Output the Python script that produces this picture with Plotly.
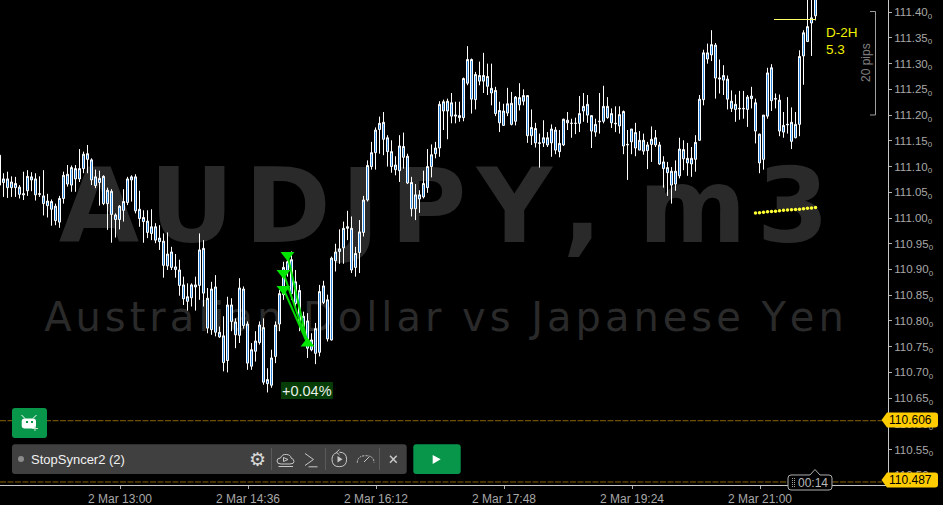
import re
import numpy as np
import pandas as pd
import plotly.graph_objects as go

# prices are kept as thousandths above 110.000
high_pts = [1125,
    1087,1090,1081,1080,1064,1090,1093,1089,1087,1081,
    1093,1047,1036,1028,1043,1090,1103,1102,1103,1134,
    1129,1142,1116,1094,1092,1083,1059,1056,1009,1025,
    1056,1080,1083,1085,1053,1015,1015,1017,990,986,
    970,972,944,930,919,886,873,873,886,970,
    957,864,876,889,789,809,847,844,805,883,
    867,799,757,780,799,805,708,744,799,860,
    915,931,935,899,870,818,815,776,796,870,
    878,851,925,950,978,993,1014,1003,944,996,
    1043,1112,1148,1176,1197,1206,1161,1151,1120,1161,
    1166,1125,1080,1066,1054,1092,1134,1143,1148,1227,
    1230,1232,1243,1226,1226,1273,1334,1310,1284,1304,
    1321,1300,1300,1255,1226,1222,1253,1245,1237,1262,
    1250,1238,1211,1185,1164,1190,1167,1182,1177,1171,
    1193,1206,1193,1195,1237,1243,1239,1200,1193,1243,
    1257,1235,1213,1217,1217,1209,1171,1173,1185,1169,
    1164,1148,1178,1171,1148,1120,1109,1099,1112,1156,
    1151,1146,1138,1161,1239,1327,1339,1365,1340,1308,
    1297,1277,1248,1240,1247,1247,1239,1255,1232,1164,
    1200,1292,1299,1242,1240,1206,1235,1215,1206,1326,
    1365,1430,1430,1450]
body_top_pts = [1122,
    1076,1076,1070,1067,1060,1047,1081,1080,1076,1047,
    1043,1033,1032,1023,1038,1083,1085,1098,1096,1096,
    1124,1125,1113,1080,1077,1081,1054,1052,1006,1023,
    1032,1076,1080,1080,1017,1001,994,983,983,961,
    955,930,934,905,899,870,847,870,870,938,
    941,844,862,866,778,771,831,831,798,864,
    862,794,744,761,792,787,686,728,792,853,
    904,915,919,876,859,809,800,763,785,857,
    868,841,922,934,940,980,983,980,931,973,
    1035,1102,1127,1171,1184,1186,1156,1129,1103,1140,
    1139,1120,1069,1045,1045,1067,1100,1123,1136,1221,
    1226,1227,1224,1200,1199,1271,1308,1308,1279,1277,
    1277,1275,1252,1248,1209,1208,1222,1223,1235,1234,
    1238,1238,1176,1174,1146,1156,1156,1173,1171,1145,
    1192,1190,1184,1184,1203,1217,1221,1199,1182,1188,
    1217,1217,1203,1184,1201,1207,1143,1173,1166,1151,
    1151,1142,1153,1156,1142,1109,1098,1091,1091,1134,
    1133,1116,1116,1147,1231,1321,1321,1337,1336,1272,
    1277,1270,1227,1221,1213,1213,1235,1237,1224,1163,
    1200,1282,1292,1232,1229,1180,1182,1186,1182,1314,
    1360,1372,1389,1440]
body_bot_pts = [1064,
    1069,1059,1059,1059,1046,1045,1053,1074,1045,1046,
    1028,1024,1017,995,992,1038,1066,1064,1076,1076,
    1096,1114,1074,1063,1069,1028,1028,1007,997,997,
    1015,1030,1074,1014,999,993,972,970,957,954,
    908,907,904,900,869,843,838,845,866,869,
    854,786,783,778,769,719,723,799,773,772,
    791,718,712,741,758,681,678,675,731,794,
    851,896,853,834,796,789,747,744,737,739,
    836,765,763,917,935,942,980,899,904,933,
    972,1035,1100,1127,1172,1153,1129,1100,1094,1092,
    1118,1068,1018,1018,1037,1041,1059,1100,1125,1136,
    1208,1208,1198,1198,1195,1195,1262,1231,1230,1266,
    1266,1256,1243,1203,1185,1180,1204,1182,1188,1220,
    1227,1160,1160,1146,1145,1146,1142,1146,1132,1129,
    1142,1185,1184,1184,1184,1208,1200,1169,1167,1187,
    1188,1195,1185,1183,1179,1140,1142,1148,1136,1132,
    1130,1131,1143,1142,1105,1096,1088,1064,1066,1082,
    1115,1107,1105,1114,1151,1230,1309,1317,1272,1270,
    1268,1231,1213,1211,1212,1212,1211,1232,1169,1107,
    1114,1198,1228,1231,1169,1167,1181,1149,1156,1182,
    1315,1343,1379,1393]
low_pts = [1061,
    1041,1039,1041,1041,1038,1035,1043,1052,1034,1041,
    1005,1001,985,986,981,1028,1061,1051,1051,1070,
    1087,1087,1064,1058,1024,1025,977,952,962,978,
    993,1025,1032,1009,983,952,961,957,951,938,
    884,899,899,884,849,831,820,828,820,841,
    828,776,773,770,767,702,700,780,747,757,
    785,705,705,721,754,676,661,670,718,780,
    841,886,841,825,780,776,728,741,716,731,
    833,760,762,896,911,911,957,893,886,893,
    964,1032,1094,1094,1125,1122,1100,1088,1083,1070,
    1096,1066,1003,996,1010,1038,1049,1079,1116,1119,
    1171,1153,1184,1184,1187,1188,1258,1203,1211,1258,
    1243,1239,1219,1198,1167,1179,1198,1180,1180,1209,
    1219,1146,1142,1137,1098,1138,1138,1119,1124,1118,
    1140,1171,1156,1163,1167,1187,1185,1136,1158,1164,
    1184,1193,1175,1167,1164,1124,1074,1124,1120,1132,
    1123,1095,1109,1138,1103,1059,1043,1028,1053,1077,
    1093,1082,1080,1090,1150,1219,1300,1305,1232,1242,
    1239,1211,1206,1187,1191,1193,1177,1213,1145,1087,
    1094,1193,1208,1213,1159,1156,1164,1134,1155,1159,
    1259,1342,1315,1384]

# yellow dotted average at the right
avg_pts = [1009.5,1010,1011,1012,1012.5,1013,1014,1015,1015.5,1016,1016.5,1017,1018,1019,1019.5,1020.5]
avg_start = 189

# green signal: three entries going to one exit
entry_idx = [72, 71, 71]
entry_pts = [928, 893, 862]
exit_idx = 77
exit_pts = 756

bid_price = 110.606
ask_price = 110.487
y_ticks = [110.50,110.55,110.60,110.65,110.70,110.75,110.80,110.85,110.90,110.95,111.00,
           111.05,111.10,111.15,111.20,111.25,111.30,111.35,111.40]
x_ticks = ["2021-03-02 13:00","2021-03-02 14:36","2021-03-02 16:12","2021-03-02 17:48","2021-03-02 19:24","2021-03-02 21:00"]
x_tick_labels = ["2 Mar 13:00","2 Mar 14:36","2 Mar 16:12","2 Mar 17:48","2 Mar 19:24","2 Mar 21:00"]

assert len(high_pts) == len(low_pts) == len(body_top_pts) == len(body_bot_pts) == 205

W, H = 943, 505
PW, PH = 888, 485
Y_RANGE = [110.4811, 111.4237]
X_RANGE = ["2021-03-02 11:30", "2021-03-02 22:36"]
FONT = "Liberation Sans"

times = pd.date_range("2021-03-02 11:29:37.5", periods=len(high_pts), freq="3min")


def price(pts):
    return 110 + np.array(pts) / 1000


def fx(x):
    return x / PW


def fy(y):
    return 1 - y / PH


def px_path(d):
    # path written in screen pixels -> paper fractions
    return re.sub(r"(-?[\d.]+),(-?[\d.]+)", lambda m: f"{fx(float(m[1])):.5f},{fy(float(m[2])):.5f}", d)


def round_rect(x0, y0, x1, y1, r):
    return (f"M{x0+r},{y0} L{x1-r},{y0} Q{x1},{y0} {x1},{y0+r} L{x1},{y1-r} Q{x1},{y1} {x1-r},{y1} "
            f"L{x0+r},{y1} Q{x0},{y1} {x0},{y1-r} L{x0},{y0+r} Q{x0},{y0} {x0+r},{y0} Z")


shapes = []
annotations = []


def add_path(d, fill=None, line=None, width=1, dash=None):
    shape = dict(type="path", xref="paper", yref="paper", path=px_path(d), layer="above",
                 line=dict(color=line or "rgba(0,0,0,0)", width=width if line else 0))
    if dash:
        shape["line"]["dash"] = dash
    if fill:
        shape["fillcolor"] = fill
    shapes.append(shape)


def add_text(text, x, y, size, color, anchor="center", font=FONT, angle=0, bg=None):
    annotations.append(dict(text=text, x=fx(x), y=fy(y), xref="paper", yref="paper", showarrow=False,
                            xanchor=anchor, yanchor="middle", textangle=angle, bgcolor=bg,
                            font=dict(size=size, color=color, family=font)))


fig = go.Figure()

# watermark sits on the base axes so the candles overlay it
fig.add_trace(go.Scatter(x=["2021-03-02 17:03"], y=[111.004], mode="text", yaxis="y", hoverinfo="skip",
                         text=["\u200a".join("AUDJPY,") + "\u00a0m\u200a3"], textposition="middle center",
                         textfont=dict(size=104, color="#2a2a2a", family="DejaVu Sans", weight="bold")))
fig.add_trace(go.Scatter(x=["2021-03-02 17:03"], y=[110.800], mode="text", yaxis="y", hoverinfo="skip",
                         text=["\u200a".join("Australian Dollar vs Japanese Yen")], textposition="middle center",
                         textfont=dict(size=40, color="#2a2a2a", family="DejaVu Sans")))

fig.add_trace(go.Candlestick(x=times, open=price(body_bot_pts), high=price(high_pts), low=price(low_pts),
                             close=price(body_top_pts), yaxis="y2", hoverinfo="skip",
                             increasing=dict(line=dict(color="#ffffff", width=1), fillcolor="#2a86dc"),
                             decreasing=dict(line=dict(color="#ffffff", width=1), fillcolor="#2a86dc")))

# dotted average
fig.add_trace(go.Scatter(x=times[avg_start:avg_start + len(avg_pts)], y=price(avg_pts), mode="markers", yaxis="y2",
                         marker=dict(size=3.5, color="#ffff33", symbol="circle", line=dict(width=0)), hoverinfo="skip"))

# signal lines and markers
for idx, pts in zip(entry_idx, entry_pts):
    fig.add_trace(go.Scatter(x=[times[idx], times[exit_idx]], y=price([pts, exit_pts]), mode="lines", yaxis="y2",
                             line=dict(color="#00d800", width=2), hoverinfo="skip"))
fig.add_trace(go.Scatter(x=times[entry_idx], y=price(entry_pts), mode="markers", yaxis="y2", hoverinfo="skip",
                         marker=dict(symbol="triangle-down", size=12, color="#00e600", line=dict(width=0))))
fig.add_trace(go.Scatter(x=[times[exit_idx]], y=price([exit_pts]), mode="markers", yaxis="y2", hoverinfo="skip",
                         marker=dict(symbol="triangle-up", size=12, color="#00e600", line=dict(width=0))))

# bid / ask lines
for p in (bid_price, ask_price):
    shapes.append(dict(type="line", xref="paper", yref="y2", x0=0, x1=fx(882), y0=p, y1=p, layer="above",
                       line=dict(color="#8a6400", width=1, dash="6px,1.5px")))

# price tags
for p, y in ((bid_price, 420), (ask_price, 480)):
    add_path(f"M881.5,{y} L887,{y-7.5} L935,{y-7.5} Q938,{y-7.5} 938,{y-4.5} L938,{y+4.5} Q938,{y+7.5} 935,{y+7.5} L887,{y+7.5} Z",
             fill="#ffcc00")
    add_text(f"{p:.3f}", 910, y, 12, "#000000")

# top right labels
add_path("M774,19.5 L816,19.5", line="#ffff66", width=1)
add_text("D-2H", 823.5, 33, 13.5, "#f0f000", anchor="left")
add_text("5.3", 823.5, 50, 13.5, "#f0f000", anchor="left")
add_path("M870,11.5 L875.5,11.5 L875.5,115 L870,115", line="#a0a0a0", width=1)
add_text("20 pips", 866, 63, 12, "#808080", angle=-90)

# profit label
add_path(round_rect(281, 382, 333, 399, 1), fill="#063c06")
add_text("+0.04%", 307, 390.5, 14.5, "#e8f0e8")

# robot button
add_path(round_rect(12, 408, 47, 438, 3), fill="#08964b")
add_path(round_rect(21.7, 418.5, 36, 428.5, 3), fill="#ffffff")
add_path("M21.5,415 L25,418.5 M36.5,415 L33,418.5", line="#ffffff", width=1)
add_path("M26,422 L28,422 M31,422 L33,422", line="#08964b", width=2)
add_path("M32,428.5 L38,428.5 M35,425.5 L35,431", line="#c8e8d4", width=1)

# strategy panel
add_path(round_rect(12, 444.3, 406.7, 474, 3), fill="#404040")
shapes.append(dict(type="circle", xref="paper", yref="paper", x0=fx(18), x1=fx(24), y0=fy(462), y1=fy(456),
                   fillcolor="#8c8c8c", line=dict(width=0), layer="above"))
add_text("StopSyncer2 (2)", 28.5, 459, 13, "#f0f0f0", anchor="left")
add_text("\u2699", 257, 458.5, 19, "#d8d8d8", font="DejaVu Sans")
add_path("M271.5,448 L271.5,470 M325.5,448 L325.5,470 M379.5,448 L379.5,470", line="#5c5c5c", width=1)
ICON = "#c8c8c8"
# cloud
add_path("M281,464 Q277,464 277,461 Q277,458 280.5,458 Q282,454 286.5,454.5 Q291,455 291,458 Q294,459 294,461.5 Q294,464 290,464 Z M283.5,457.5 L288,459.5 L283.5,461.5 Z M278.5,466.5 L293,466.5", line=ICON, width=1)
# prompt
add_path("M305,453.5 L313.5,459.5 L305,465.5 M308.5,466.8 L317.5,466.8", line=ICON, width=1)
# replay
add_path("M337,452.5 Q332,454 332,459.3 Q332,466.7 339.3,466.7 Q346.6,466.7 346.6,459.3 Q346.6,452.2 339.3,452.2 M339.5,449.5 L336.5,452.3 L339.5,455", line=ICON, width=1)
add_path("M337.5,456 L342.5,459.3 L337.5,462.5 Z", fill=ICON)
# gauge
add_path("M357.3,462.7 Q357.5,455.7 365.7,455.7 Q374,455.7 374,462.7", line=ICON, width=1, dash="2px,1px")
add_path("M364,462 L369,457", line=ICON, width=1)
# close
add_path("M390,455.7 L396.7,462.7 M396.7,455.7 L390,462.7", line=ICON, width=1.5)
# run button
add_path(round_rect(413.3, 444.3, 460.7, 474, 3), fill="#08964b")
add_path("M432.7,455 L440.7,459.3 L432.7,464 Z", fill="#ffffff")

# countdown box
add_path("M788,478 Q788,475 791,475 L810,475 L815,469.5 L820,475 L829,475 Q832,475 832,478 L832,487 Q832,490 829,490 L791,490 Q788,490 788,487 Z",
         fill="#000000", line="#b0b0b0", width=1)
add_path("M792.5,478 L792.5,488 M794.5,478 L794.5,488", line="#a0a0a0", width=1, dash="1px,1px")
add_text("00:14", 813, 483, 12, "#b8b8b8")

fig.update_layout(
    width=W, height=H, margin=dict(l=0, r=W - PW, t=0, b=H - PH),
    paper_bgcolor="#000000", plot_bgcolor="#000000", showlegend=False, hovermode=False,
    boxgap=0.5, boxgroupgap=0,  # gives 2px bodies on the 4px candle spacing
    font=dict(family=FONT, color="#a8a8a8"), shapes=shapes, annotations=annotations,
    xaxis=dict(type="date", range=X_RANGE, showgrid=False, zeroline=False, rangeslider=dict(visible=False),
               tickmode="array", tickvals=x_ticks, ticktext=x_tick_labels, ticks="outside", ticklen=3,
               tickcolor="#b0b0b0", showline=True, linecolor="#c8c8c8", linewidth=1,
               tickfont=dict(size=12, color="#a8a8a8", family=FONT)),
    yaxis=dict(range=Y_RANGE, visible=False, fixedrange=True),
    yaxis2=dict(range=Y_RANGE, overlaying="y", side="right", anchor="x", showgrid=False, zeroline=False,
                tickmode="array", tickvals=y_ticks, ticktext=[f"{v:.2f}<sub>0</sub>" for v in y_ticks],
                ticks="outside", ticklen=3, tickcolor="#b0b0b0", showline=True, linecolor="#c8c8c8", linewidth=1,
                tickfont=dict(size=11.5, color="#a8a8a8", family=FONT)),
)

fig.write_html("out.html", config=dict(displayModeBar=False), post_script="document.body.style.margin='0';")
